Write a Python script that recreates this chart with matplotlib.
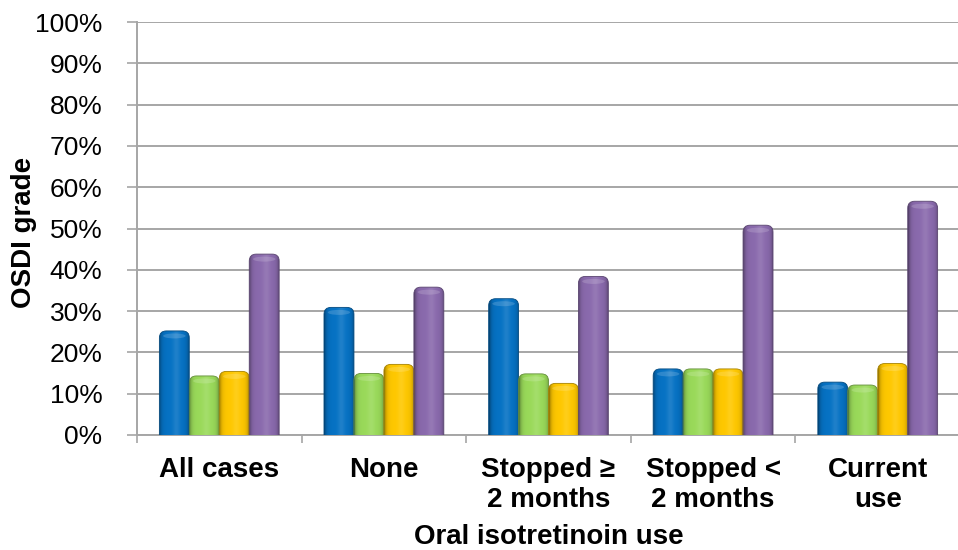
import numpy as np
import matplotlib
matplotlib.use("Agg")
import matplotlib.pyplot as plt
from matplotlib.patches import FancyBboxPatch, Ellipse
from matplotlib.colors import to_rgb

plt.rcParams['font.family'] = ['Liberation Sans', 'DejaVu Sans']

# Data: share of patients (%) in each OSDI grade, by isotretinoin use
categories = ["All cases", "None", "Stopped \u2265\n2 months", "Stopped <\n2 months", "Current\nuse"]
grade_1 = [25.2, 30.9, 33.0, 16.0, 12.8]
grade_2 = [14.3, 14.9, 14.8, 16.0, 12.1]
grade_3 = [15.4, 17.1, 12.5, 16.0, 17.3]
grade_4 = [43.8, 35.8, 38.4, 50.8, 56.6]
series = [grade_1, grade_2, grade_3, grade_4]
colors = ["#0672C4", "#9ADA5A", "#FFC800", "#8A6AAD"]

fig = plt.figure(figsize=(9.58, 5.5), dpi=100)
ax = fig.add_axes([137 / 958, 115 / 550, 823 / 958, 413 / 550])

x = np.arange(len(categories))
width = 0.182
ax.set_xlim(-0.5, len(categories) - 0.5)
ax.set_ylim(0, 100)

# pixel scale of the data units, used to keep the rounded caps circular
p0 = ax.transData.transform((0, 0))
p1 = ax.transData.transform((1, 1))
px_x = p1[0] - p0[0]
px_y = p1[1] - p0[1]
aspect = px_x / px_y
radius_x = 7.0 / px_x


def shade_profile(base, n=80):
    rgb = np.array(to_rgb(base))
    t = np.linspace(0, 1, n)
    # flat body with darker rims and a faint highlight band
    light = 1.0 - 0.45 * np.exp(-t / 0.07) - 0.30 * np.exp(-(1 - t) / 0.07)
    hl = 0.10 * np.exp(-((t - 0.58) / 0.12) ** 2)
    cols = rgb[None, :] * light[:, None]
    cols = cols + (1 - cols) * hl[:, None]
    return np.clip(cols, 0, 1)[None, :, :]


for i, (vals, col) in enumerate(zip(series, colors)):
    offset = (i - 1.5) * width
    bars = ax.bar(x + offset, vals, width, color="none", edgecolor="none", zorder=3)
    grad = shade_profile(col)
    for rect in bars:
        bx = rect.get_x()
        bw = rect.get_width()
        bh = rect.get_height()
        patch = FancyBboxPatch((bx, -10), bw, bh + 10,
                               boxstyle=f"round,pad=0,rounding_size={radius_x}",
                               mutation_aspect=aspect,
                               facecolor="none",
                               edgecolor=tuple(np.array(to_rgb(col)) * 0.65),
                               linewidth=0.6, zorder=4, clip_on=True)
        ax.add_patch(patch)
        im = ax.imshow(grad, extent=[bx, bx + bw, 0, bh], aspect="auto",
                       interpolation="bilinear", zorder=3.5)
        im.set_clip_path(patch)
        # lighter bevel band on the cap
        cap = Ellipse((bx + bw * 0.5, bh - 5.0 / px_y), bw * 0.75, 5.0 / px_y,
                      facecolor="white", alpha=0.16, edgecolor="none", zorder=4.2)
        ax.add_patch(cap)
        cap.set_clip_path(patch)

ax.set_xlim(-0.5, len(categories) - 0.5)
ax.set_ylim(0, 100)
ax.set_aspect("auto")

ax.set_yticks(np.arange(0, 101, 10))
ax.set_yticklabels([f"{v}%" for v in range(0, 101, 10)])
ax.yaxis.grid(True, color="#A6A6A6", linewidth=1.4, zorder=0)
ax.set_axisbelow(True)

ax.set_xticks(x)
ax.set_xticklabels(categories, fontsize=20, fontweight="bold", linespacing=1.2)
ax.set_xticks(np.arange(-0.5, len(categories)), minor=True)
ax.tick_params(axis="x", which="major", length=0, pad=16)
ax.tick_params(axis="x", which="minor", length=6, color="#A6A6A6", width=1.2)
ax.tick_params(axis="y", length=7, color="#A6A6A6", width=1.2, labelsize=19, pad=18)

for s in ("top", "right"):
    ax.spines[s].set_visible(False)
for s in ("left", "bottom"):
    ax.spines[s].set_color("#A6A6A6")
    ax.spines[s].set_linewidth(1.4)

ax.set_ylabel("OSDI grade", fontsize=20, fontweight="bold")
ax.yaxis.set_label_coords(-0.122, 0.49)
fig.text(548.5 / 958, 1 - 537 / 550, "Oral isotretinoin use", fontsize=20,
         fontweight="bold", ha="center", va="center")

fig.savefig("out.png", dpi=100)
